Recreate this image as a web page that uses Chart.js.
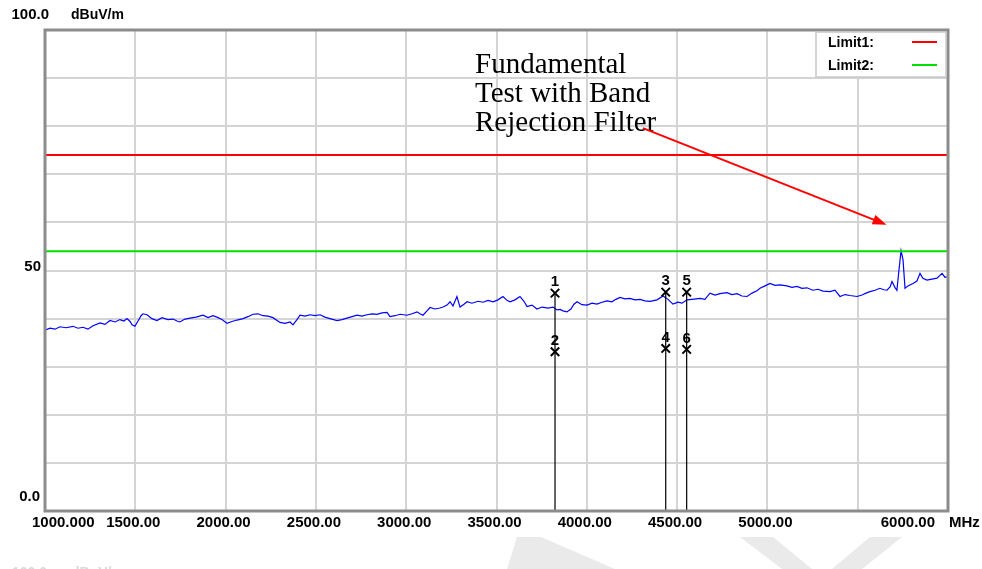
<!DOCTYPE html>
<html>
<head>
<meta charset="utf-8">
<script src="https://cdn.jsdelivr.net/npm/chart.js@4.4.1/dist/chart.umd.min.js"></script>
<style>
  html, body { margin: 0; padding: 0; background: #fff; }
  #wrap { width: 982px; height: 569px; }
</style>
</head>
<body>
<div id="wrap"><canvas id="emiChart" width="982" height="569"></canvas></div>
<script>
// Sweep trace (MHz / dBuV/m)
var traceMHz = [
  1000,1028,1055,1083,1116,1155,1183,1210,1238,1266,
  1305,1332,1360,1388,1415,1437,1454,1471,1482,1498,
  1515,1532,1543,1565,1592,1620,1648,1681,1709,1731,
  1747,1775,1803,1836,1875,1903,1930,1952,1980,2008,
  2035,2063,2096,2124,2152,2179,2207,2235,2262,2285,
  2301,2329,2357,2373,2395,2412,2440,2467,2495,2523,
  2550,2578,2617,2644,2672,2700,2728,2755,2783,2811,
  2838,2866,2894,2910,2938,2966,3004,3032,3060,3076,
  3093,3115,3132,3159,3187,3204,3226,3243,3259,3281,
  3298,3320,3337,3364,3398,3425,3453,3481,3508,3536,
  3558,3575,3602,3630,3652,3669,3697,3724,3752,3785,
  3813,3835,3852,3868,3890,3912,3929,3946,3973,4001,
  4029,4056,4084,4112,4139,4161,4184,4211,4239,4267,
  4295,4322,4350,4389,4422,4450,4477,4505,4527,4555,
  4582,4627,4654,4682,4710,4737,4776,4804,4832,4859,
  4887,4915,4942,4959,4987,5014,5042,5070,5108,5136,
  5164,5191,5219,5252,5280,5308,5347,5374,5402,5430,
  5457,5496,5524,5546,5568,5596,5623,5645,5662,5679,
  5690,5706,5717,5728,5740,5751,5762,5778,5806,5828,
  5845,5861,5883,5911,5939,5967,5983,6000
];
var traceDb = [
  37.6,38.0,37.8,38.3,38.1,38.4,38.0,38.2,37.8,38.5,
  39.1,38.8,39.6,39.3,39.8,39.5,40.0,39.4,38.7,38.4,
  39.5,40.6,41.0,40.8,40.0,39.6,40.2,39.8,39.9,39.5,
  39.3,39.9,40.1,40.3,40.7,40.2,40.6,40.3,39.8,39.0,
  39.4,39.7,40.0,40.4,40.9,41.0,40.6,40.5,40.2,39.6,
  39.2,39.0,39.3,38.7,39.8,40.7,40.5,40.8,40.6,40.8,
  40.3,40.0,39.6,39.8,40.1,40.4,40.7,40.5,40.8,41.0,
  40.9,41.2,41.3,40.4,40.6,40.9,40.7,41.0,41.4,41.0,
  40.7,41.6,42.3,42.0,42.2,42.4,42.8,43.5,42.6,44.6,
  42.4,43.0,43.5,43.2,43.6,43.4,43.8,43.5,43.9,44.6,
  43.8,43.5,43.9,44.6,43.6,42.5,42.8,42.0,42.4,42.2,
  42.4,41.8,41.9,41.6,41.4,42.0,43.0,43.5,42.9,42.8,
  43.2,43.0,43.4,43.7,43.5,44.0,44.4,44.1,44.2,43.9,
  44.0,43.7,43.6,43.9,44.7,44.0,43.0,43.4,43.2,43.9,
  44.0,44.2,44.0,45.3,44.9,45.2,45.4,45.0,45.2,44.7,
  44.6,45.3,45.8,46.3,46.8,47.3,46.9,47.0,46.8,46.5,
  46.7,46.3,46.4,45.9,46.1,45.7,45.6,45.9,44.6,45.0,
  44.8,44.6,44.9,45.3,45.6,45.9,46.3,46.0,45.9,46.6,
  47.7,46.5,45.9,49.9,54.1,52.2,46.3,46.8,47.3,47.8,
  49.4,48.4,48.0,48.2,48.4,49.4,48.6,48.7
];

// Limit lines
var limitNames = ['Limit1:', 'Limit2:'];
var limitDb = [74, 54];
var limitColors = ['#ff0000', '#00e000'];

// Markers (1..6)
var markerNames = ['1', '2', '3', '4', '5', '6'];
var markerMHz = [3824, 3824, 4437, 4437, 4553, 4553];
var markerDb = [45.3, 33.1, 45.5, 33.8, 45.5, 33.6];

// Axis ticks
var xTicks = [1000, 1500, 2000, 2500, 3000, 3500, 4000, 4500, 5000, 6000];
var xTickLabels = ['1000.000', '1500.00', '2000.00', '2500.00', '3000.00', '3500.00', '4000.00', '4500.00', '5000.00', '6000.00'];
var yTicks = [0, 50, 100];
var yTickLabels = ['0.0', '50', '100.0'];

// Annotation
var noteLines = ['Fundamental', 'Test with Band', 'Rejection Filter'];
var noteAt = [3381, 91.1];
var arrowFrom = [4311, 79.6];
var arrowTo = [5660, 59.5];

var boldFont = 'bold 15px "Liberation Sans", Arial, sans-serif';

function toPoints(xs, ys) {
    return xs.map(function(x, i) { return { x: x, y: ys[i] }; });
}

var datasets = [];

// marker crosses first so they sit on top
datasets.push({
    label: 'markers',
    data: toPoints(markerMHz, markerDb),
    showLine: false,
    pointStyle: 'crossRot',
    pointRadius: 6,
    pointBorderWidth: 2,
    pointBorderColor: '#000',
    pointBackgroundColor: '#000'
});

// marker drop lines (upper marker down to axis)
markerMHz.forEach(function(f, i) {
    if (i % 2 !== 0) return;
    datasets.push({
        label: 'drop' + i,
        data: [{ x: f, y: markerDb[i] }, { x: f, y: 0 }],
        borderColor: '#000',
        borderWidth: 1.2,
        pointRadius: 0
    });
});

limitDb.forEach(function(v, i) {
    datasets.push({
        label: limitNames[i],
        data: [{ x: 1000, y: v }, { x: 6000, y: v }],
        borderColor: limitColors[i],
        borderWidth: 2,
        pointRadius: 0
    });
});

datasets.push({
    label: 'trace',
    data: toPoints(traceMHz, traceDb),
    borderColor: '#0000ff',
    borderWidth: 1.2,
    pointRadius: 0,
    tension: 0
});

var decor = {
    id: 'decor',
    beforeDraw: function(chart) {
        var ctx = chart.ctx;
        ctx.save();
        ctx.fillStyle = '#fff';
        ctx.fillRect(0, 0, chart.width, chart.height);
        // faint watermark strokes at page bottom
        ctx.fillStyle = '#eaeaea';
        [[[517, 537], [541, 537], [615, 569], [507, 569]],
         [[740, 537], [773, 537], [812, 569], [782, 569]],
         [[870, 537], [902, 537], [862, 569], [832, 569]]].forEach(function(poly) {
            ctx.beginPath();
            ctx.moveTo(poly[0][0], poly[0][1]);
            for (var k = 1; k < poly.length; k++) ctx.lineTo(poly[k][0], poly[k][1]);
            ctx.closePath();
            ctx.fill();
        });
        ctx.restore();
    },
    afterDatasetsDraw: function(chart) {
        var ctx = chart.ctx;
        var xs = chart.scales.x, ys = chart.scales.y;
        var a = chart.chartArea;
        ctx.save();

        // plot frame
        ctx.strokeStyle = '#8c8c8c';
        ctx.lineWidth = 3;
        ctx.strokeRect(a.left, a.top, a.right - a.left, a.bottom - a.top);

        // marker numbers
        ctx.fillStyle = '#000';
        ctx.font = 'bold 15px "Liberation Sans", Arial, sans-serif';
        ctx.textAlign = 'center';
        ctx.textBaseline = 'middle';
        markerNames.forEach(function(n, i) {
            ctx.fillText(n, xs.getPixelForValue(markerMHz[i]), ys.getPixelForValue(markerDb[i]) - 11);
        });

        // legend box
        var bx = a.right - 132, by = a.top + 2;
        ctx.fillStyle = '#fff';
        ctx.fillRect(bx, by, 130, 45);
        ctx.strokeStyle = '#c8c8c8';
        ctx.lineWidth = 1.5;
        ctx.strokeRect(bx, by, 130, 45);
        ctx.font = 'bold 14px "Liberation Sans", Arial, sans-serif';
        ctx.textAlign = 'left';
        limitNames.forEach(function(n, i) {
            var ly = by + 10 + i * 23;
            ctx.fillStyle = '#000';
            ctx.fillText(n, bx + 12, ly + 1);
            ctx.strokeStyle = limitColors[i];
            ctx.lineWidth = 2;
            ctx.beginPath();
            ctx.moveTo(bx + 96, ly);
            ctx.lineTo(bx + 121, ly);
            ctx.stroke();
        });

        // annotation text
        ctx.fillStyle = '#000';
        ctx.font = '29px "Liberation Serif", "Times New Roman", serif';
        ctx.textBaseline = 'alphabetic';
        var nx = xs.getPixelForValue(noteAt[0]), ny = ys.getPixelForValue(noteAt[1]);
        noteLines.forEach(function(t, i) {
            ctx.fillText(t, nx, ny + i * 29);
        });

        // arrow
        var x1 = xs.getPixelForValue(arrowFrom[0]), y1 = ys.getPixelForValue(arrowFrom[1]);
        var x2 = xs.getPixelForValue(arrowTo[0]), y2 = ys.getPixelForValue(arrowTo[1]);
        var ang = Math.atan2(y2 - y1, x2 - x1);
        ctx.strokeStyle = '#ff0000';
        ctx.fillStyle = '#ff0000';
        ctx.lineWidth = 2;
        ctx.beginPath();
        ctx.moveTo(x1, y1);
        ctx.lineTo(x2 - 10 * Math.cos(ang), y2 - 10 * Math.sin(ang));
        ctx.stroke();
        ctx.beginPath();
        ctx.moveTo(x2, y2);
        ctx.lineTo(x2 - 14 * Math.cos(ang) + 5 * Math.sin(ang), y2 - 14 * Math.sin(ang) - 5 * Math.cos(ang));
        ctx.lineTo(x2 - 14 * Math.cos(ang) - 5 * Math.sin(ang), y2 - 14 * Math.sin(ang) + 5 * Math.cos(ang));
        ctx.closePath();
        ctx.fill();

        // x tick labels
        ctx.fillStyle = '#000';
        ctx.font = boldFont;
        ctx.textBaseline = 'middle';
        var last = xTicks.length - 1;
        xTicks.forEach(function(v, i) {
            var px = xs.getPixelForValue(v);
            if (i === 0) { ctx.textAlign = 'left'; px -= 13; }
            else if (i === last) { ctx.textAlign = 'right'; px -= 13; }
            else { ctx.textAlign = 'center'; px -= 2; }
            ctx.fillText(xTickLabels[i], px, a.bottom + 12);
        });
        ctx.textAlign = 'left';
        ctx.fillText('MHz', a.right + 1, a.bottom + 12);

        // y tick labels
        ctx.textAlign = 'right';
        yTicks.forEach(function(v, i) {
            var py = ys.getPixelForValue(v);
            if (v === 100) ctx.fillText(yTickLabels[i], a.left + 4, py - 15);
            else if (v === 0) ctx.fillText(yTickLabels[i], a.left - 5, py - 14);
            else ctx.fillText(yTickLabels[i], a.left - 4, py - 4);
        });
        ctx.textAlign = 'left';
        ctx.font = 'bold 14px "Liberation Sans", Arial, sans-serif';
        ctx.fillText('dBuV/m', a.left + 26, a.top - 15);

        // next page header peeking in at the bottom
        ctx.fillStyle = '#dadada';
        ctx.fillText('100.0', 12, chart.height + 4);
        ctx.fillText('dBuV/m', 71, chart.height + 4);

        ctx.restore();
    }
};

var ctx = document.getElementById('emiChart').getContext('2d');
new Chart(ctx, {
    type: 'line',
    data: { datasets: datasets },
    options: {
        responsive: false,
        animation: false,
        layout: { padding: { left: 45, right: 34, top: 30, bottom: 58 } },
        plugins: {
            legend: { display: false },
            tooltip: { enabled: false }
        },
        scales: {
            x: {
                type: 'linear',
                min: 1000,
                max: 6000,
                ticks: { stepSize: 500, display: false },
                grid: { color: '#d4d4d4', lineWidth: 2, drawTicks: false },
                border: { display: false }
            },
            y: {
                min: 0,
                max: 100,
                ticks: { stepSize: 10, display: false },
                grid: { color: '#d4d4d4', lineWidth: 2, drawTicks: false },
                border: { display: false }
            }
        }
    },
    plugins: [decor]
});
</script>
</body>
</html>
